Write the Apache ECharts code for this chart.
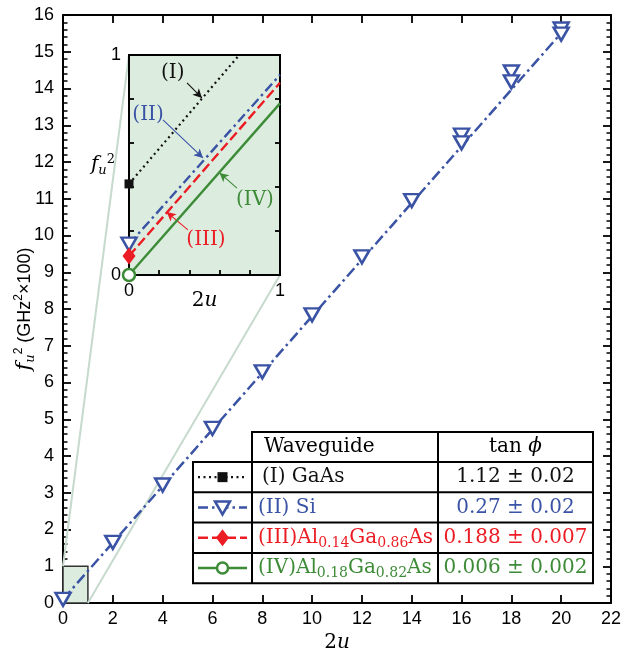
<!DOCTYPE html>
<html><head><meta charset="utf-8">
<script src="https://cdn.jsdelivr.net/npm/echarts@6/dist/echarts.min.js"></script>
<style>html,body{margin:0;padding:0;background:#fff}#c{width:622px;height:654px}</style>
</head><body><div id="c"></div>
<script>
// ---------------- data ----------------
const xTickMain = [0, 22, 2];      // min, max, interval
const yTickMain = [0, 16, 1];
const siX = [0, 2, 4, 6, 8, 10, 12, 14, 16, 16, 18, 18, 20, 20];
const siY = [0.1, 1.65, 3.21, 4.75, 6.29, 7.84, 9.42, 10.95, 12.73, 12.52, 14.45, 14.18, 15.62, 15.48];
const siFitX = [0, 20.25];
const siFitY = [0.1, 15.7];
// inset (normalised 0..1) lines
const insetIx = [0, 0.73],  insetIy = [0.414, 1.0];
const insetIIx = [0, 1],    insetIIy = [0.14, 0.91];
const insetIIIx = [0, 1],   insetIIIy = [0.086, 0.874];
const insetIVx = [0, 1],    insetIVy = [0, 0.78];
// inset annotations: label position and arrow (from -> to), inset coords
const annText = ['(I)', '(II)', '(III)', '(IV)'];
const annLabel = [[0.29, 0.92], [0.126, 0.727], [0.51, 0.159], [0.834, 0.34]];
const annFrom = [[0.384, 0.873], [0.225, 0.705], [0.39, 0.205], [0.715, 0.395]];
const annTo = [[0.483, 0.805], [0.49, 0.532], [0.25, 0.286], [0.60, 0.464]];
// legend table
const waveguides = ['(I) GaAs', '(II) Si', '(III)Al_{0.14}Ga_{0.86}As', '(IV)Al_{0.18}Ga_{0.82}As'];
const tanPhi = ['1.12 \u00b1 0.02', '0.27 \u00b1 0.02', '0.188 \u00b1 0.007', '0.006 \u00b1 0.002'];

// ---------------- style ----------------
const BLACK = '#111', BLUE = '#3a53a4', RED = '#ec1c24', GREEN = '#3d8b37';
const INSET_BG = '#dcede0', CONNECT = '#c6dacd';
const SANS = 'Liberation Sans, Arial, sans-serif';
const SERIF = 'DejaVu Serif, serif';
const colors = [BLACK, BLUE, RED, GREEN];
const dashes = [[2, 3.5], [10, 4, 2.5, 4], [10, 4], null];

const chart = echarts.init(document.getElementById('c'));
const pairs = (xs, ys) => xs.map((x, i) => [x, ys[i]]);

function mathRich(size) {
  return {
    f: {fontFamily: SERIF, fontStyle: 'italic', fontSize: size, lineHeight: 24, verticalAlign: 'middle', color: '#000'},
    u: {fontFamily: SERIF, fontStyle: 'italic', fontSize: 13, lineHeight: 14, verticalAlign: 'bottom', color: '#000'},
    s: {fontFamily: SANS, fontSize: 12, lineHeight: 14, verticalAlign: 'top', color: '#000'},
    sm: {fontFamily: SERIF, fontSize: 13, lineHeight: 14, verticalAlign: 'top', color: '#000'},
    t: {fontFamily: SANS, fontSize: 18, lineHeight: 24, verticalAlign: 'middle', color: '#000'},
    n: {fontFamily: SERIF, fontSize: size, color: '#000'},
    i: {fontFamily: SERIF, fontStyle: 'italic', fontSize: size, color: '#000'}
  };
}

const axLine = {show: true, onZero: false, lineStyle: {color: '#000', width: 2}};
const tick = (len) => ({show: true, inside: true, length: len, lineStyle: {color: '#000', width: 1.8}});
const minor = {show: true, splitNumber: 5, length: 4.5, lineStyle: {color: '#000', width: 1.5}};
const lblMain = {show: true, fontSize: 18, color: '#000', fontFamily: SANS};
const lblInset = {show: true, fontSize: 18, color: '#000', fontFamily: SANS,
  formatter: v => (Math.abs(v) < 1e-9 ? '0' : (Math.abs(v - 1) < 1e-9 ? '1' : ''))};

function insetSeries(idx, xs, ys, sym, symSize, symStyle) {
  const d = pairs(xs, ys).map((p, i) => i === 0
    ? {value: p, symbol: sym, symbolSize: symSize, symbolRotate: sym === 'triangle' ? 180 : 0, itemStyle: symStyle}
    : {value: p, symbol: 'none'});
  const ls = {color: colors[idx], width: idx === 0 ? 2.2 : 2.4};
  if (dashes[idx]) ls.type = dashes[idx];
  return {
    type: 'line', xAxisIndex: 2, yAxisIndex: 2, data: d, clip: false, z: 6,
    showSymbol: true, lineStyle: ls, itemStyle: symStyle,
    markLine: {
      silent: true, symbol: ['none', 'arrow'], symbolSize: [7, 9], animation: false,
      label: {show: false}, lineStyle: {color: colors[idx], width: 1.1, type: 'solid'},
      data: [[{coord: annFrom[idx]}, {coord: annTo[idx]}]]
    }
  };
}

const option = {
  animation: false,
  backgroundColor: '#fff',
  grid: [
    {left: 63, right: 11, top: 15, bottom: 51, containLabel: false, outerBoundsMode: 'none'},
    {left: 129, top: 55, width: 151, height: 220, show: true, backgroundColor: INSET_BG,
     borderColor: '#000', borderWidth: 2, z: 3, containLabel: false, outerBoundsMode: 'none'}
  ],
  xAxis: [
    {gridIndex: 0, type: 'value', min: xTickMain[0], max: xTickMain[1], interval: xTickMain[2], position: 'bottom',
     axisLine: axLine, axisTick: tick(8), axisLabel: Object.assign({margin: 7}, lblMain), splitLine: {show: false},
     name: '{n|2}{i|u}', nameLocation: 'middle', nameGap: 30, nameTextStyle: {rich: mathRich(20)}},
    {gridIndex: 0, type: 'value', min: xTickMain[0], max: xTickMain[1], interval: xTickMain[2], position: 'top',
     axisLine: axLine, axisTick: tick(8), axisLabel: {show: false}, splitLine: {show: false}},
    {gridIndex: 1, type: 'value', min: 0, max: 1, interval: 0.2, position: 'bottom', z: 4,
     axisLine: {show: false}, axisTick: tick(5), axisLabel: Object.assign({margin: 7}, lblInset), splitLine: {show: false},
     name: '{n|2}{i|u}', nameLocation: 'middle', nameGap: 16, nameMoveOverlap: false, nameTextStyle: {rich: mathRich(20)}}
  ],
  yAxis: [
    {gridIndex: 0, type: 'value', min: yTickMain[0], max: yTickMain[1], interval: yTickMain[2], position: 'left',
     axisLine: axLine, axisTick: tick(8), minorTick: minor, axisLabel: Object.assign({margin: 9}, lblMain), splitLine: {show: false},
     name: '{f|f}{u|u}{s|2}{t| (GHz}{s|2}{t|\u00d7100)}', nameLocation: 'middle', nameRotate: 90, nameGap: 26,
     nameMoveOverlap: false, nameTextStyle: {rich: mathRich(21)}},
    {gridIndex: 0, type: 'value', min: yTickMain[0], max: yTickMain[1], interval: yTickMain[2], position: 'right',
     axisLine: axLine, axisTick: tick(8), minorTick: minor, axisLabel: {show: false}, splitLine: {show: false}},
    {gridIndex: 1, type: 'value', min: 0, max: 1, interval: 0.2, position: 'left', z: 4,
     axisLine: {show: false}, axisTick: tick(5), axisLabel: Object.assign({margin: 8}, lblInset), splitLine: {show: false},
     name: '{f|f}{u|u}{sm|2}', nameLocation: 'middle', nameRotate: 0, nameGap: 14, nameMoveOverlap: false,
     nameTextStyle: {rich: mathRich(20)}},
    {gridIndex: 1, type: 'value', min: 0, max: 1, interval: 0.2, position: 'right', z: 4,
     axisLine: {show: false}, axisTick: tick(5), axisLabel: {show: false}, splitLine: {show: false}}
  ],
  series: [
    {type: 'line', xAxisIndex: 0, yAxisIndex: 0, data: pairs(siFitX, siFitY), symbol: 'none', z: 2,
     lineStyle: {color: BLUE, width: 2.5, type: [11, 4, 2.5, 4]},
     markArea: {silent: true, itemStyle: {color: INSET_BG, borderColor: '#333', borderWidth: 1.5},
       data: [[{coord: [0, 0]}, {coord: [1, 1]}]]}},
    {type: 'scatter', xAxisIndex: 0, yAxisIndex: 0, data: pairs(siX, siY), symbol: 'triangle', symbolRotate: 180,
     symbolSize: [15, 13], clip: false, z: 5, itemStyle: {color: '#fff', borderColor: BLUE, borderWidth: 2.5, opacity: 1}},
    insetSeries(0, insetIx, insetIy, 'rect', 9, {color: BLACK, borderWidth: 0}),
    insetSeries(1, insetIIx, insetIIy, 'triangle', [15, 13], {color: '#fff', borderColor: BLUE, borderWidth: 2.5}),
    insetSeries(2, insetIIIx, insetIIIy, 'diamond', [13, 17], {color: RED, borderWidth: 0}),
    insetSeries(3, insetIVx, insetIVy, 'circle', 12, {color: '#fff', borderColor: GREEN, borderWidth: 2.5})
  ]
};
chart.setOption(option);

// ---------- graphic: connectors, inset annotations, legend table ----------
const g = [];
const pMain = p => chart.convertToPixel({xAxisIndex: 0, yAxisIndex: 0}, p);
const pIn = p => chart.convertToPixel({xAxisIndex: 2, yAxisIndex: 2}, p);
[[[0, 1], [0, 1]], [[1, 0], [1, 0]]].forEach(([a, b]) => {
  const A = pIn(a), B = pMain(b);
  g.push({type: 'line', z: 1, shape: {x1: A[0], y1: A[1], x2: B[0], y2: B[1]}, style: {stroke: CONNECT, lineWidth: 2}});
});
annText.forEach((t, i) => {
  const P = pIn(annLabel[i]);
  g.push({type: 'text', z: 20, x: P[0], y: P[1], style: {text: t, fill: colors[i], font: '20px ' + SERIF,
    align: 'center', verticalAlign: 'middle', textAlign: 'center', textVerticalAlign: 'middle'}});
});

// table
const T = {left: 193, colA: 252, colB: 438, right: 593, top: 432, rowTop: 462, rowH: 30.3, textX: 262};
const bottom = T.rowTop + T.rowH * waveguides.length;
const ST = {stroke: '#000', lineWidth: 2};
g.push({type: 'rect', z: 30, shape: {x: T.colA, y: T.top, width: T.right - T.colA, height: T.rowTop - T.top}, style: {fill: '#fff', stroke: '#000', lineWidth: 2}});
g.push({type: 'rect', z: 30, shape: {x: T.left, y: T.rowTop, width: T.right - T.left, height: bottom - T.rowTop}, style: {fill: '#fff', stroke: '#000', lineWidth: 2}});
for (let i = 1; i < waveguides.length; i++) {
  const y = T.rowTop + T.rowH * i;
  g.push({type: 'line', z: 31, shape: {x1: T.left, y1: y, x2: T.right, y2: y}, style: ST});
}
g.push({type: 'line', z: 31, shape: {x1: T.colA, y1: T.rowTop, x2: T.colA, y2: bottom}, style: ST});
g.push({type: 'line', z: 31, shape: {x1: T.colB, y1: T.top, x2: T.colB, y2: bottom}, style: ST});
const richTab = (c) => ({
  a: {fontFamily: SERIF, fontSize: 20, lineHeight: 25, verticalAlign: 'middle', fill: c, color: c},
  b: {fontFamily: SERIF, fontSize: 14, lineHeight: 14, verticalAlign: 'bottom', fill: c, color: c},
  i: {fontFamily: SERIF, fontSize: 20, fontStyle: 'italic', lineHeight: 25, verticalAlign: 'middle', fill: c, color: c}
});
const hy = (T.top + T.rowTop) / 2;
g.push({type: 'text', z: 32, x: T.textX + 2, y: hy, style: {text: 'Waveguide', fill: '#000', font: '20px ' + SERIF,
  align: 'left', verticalAlign: 'middle', textAlign: 'left', textVerticalAlign: 'middle'}});
g.push({type: 'text', z: 32, x: (T.colB + T.right) / 2, y: hy, style: {text: '{a|tan }{i|\u03d5}', rich: richTab('#000'),
  align: 'center', verticalAlign: 'middle', textAlign: 'center', textVerticalAlign: 'middle'}});
waveguides.forEach((w, i) => {
  const c = colors[i];
  const cy = T.rowTop + T.rowH * (i + 0.5);
  const txt = '{a|' + w.replace(/_\{([^}]*)\}/g, '}{b|$1}{a|') + '}';
  g.push({type: 'text', z: 32, x: i === 0 ? T.textX : T.textX - 4, y: cy, style: {text: txt, rich: richTab(c),
    align: 'left', verticalAlign: 'middle', textAlign: 'left', textVerticalAlign: 'middle'}});
  g.push({type: 'text', z: 32, x: (T.colB + T.right) / 2, y: cy, style: {text: tanPhi[i], fill: c, font: '20px ' + SERIF,
    align: 'center', verticalAlign: 'middle', textAlign: 'center', textVerticalAlign: 'middle'}});
  // symbol
  const lx1 = T.left + 5, lx2 = T.colA - 5, mx = (T.left + T.colA) / 2;
  const ls = {stroke: c, lineWidth: i === 0 ? 2.2 : 2.4};
  if (dashes[i]) ls.lineDash = dashes[i];
  g.push({type: 'line', z: 32, shape: {x1: lx1, y1: cy, x2: lx2, y2: cy}, style: ls});
  if (i === 0) g.push({type: 'rect', z: 33, shape: {x: mx - 5, y: cy - 5, width: 10, height: 10}, style: {fill: BLACK}});
  if (i === 1) g.push({type: 'polygon', z: 33, shape: {points: [[mx - 7.5, cy - 6], [mx + 7.5, cy - 6], [mx, cy + 7]]}, style: {fill: '#fff', stroke: BLUE, lineWidth: 2.5}});
  if (i === 2) g.push({type: 'polygon', z: 33, shape: {points: [[mx, cy - 8.5], [mx + 6.5, cy], [mx, cy + 8.5], [mx - 6.5, cy]]}, style: {fill: RED}});
  if (i === 3) g.push({type: 'circle', z: 33, shape: {cx: mx, cy: cy, r: 5.5}, style: {fill: '#fff', stroke: GREEN, lineWidth: 2.5}});
});
chart.setOption({graphic: g});
</script>
</body></html>
